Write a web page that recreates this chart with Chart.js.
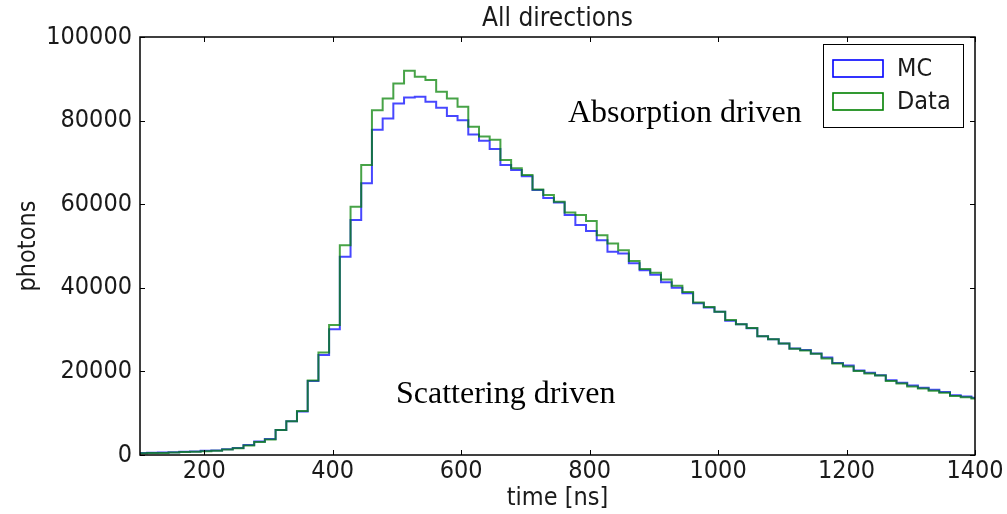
<!DOCTYPE html>
<html>
<head>
<meta charset="utf-8">
<script src="https://cdn.jsdelivr.net/npm/chart.js@4/dist/chart.umd.min.js"></script>
<style>
  html, body { margin: 0; padding: 0; background: #fff; }
  #wrap { position: relative; width: 1007px; height: 514px; }
</style>
</head>
<body>
<div id="wrap"><canvas id="c"></canvas></div>
<script>
// ---- data ----
const chartTitle = "All directions";
const xAxisTitle = "time [ns]";
const yAxisTitle = "photons";
const seriesNames = ["MC", "Data"];
const annotationTexts = ["Absorption driven", "Scattering driven"];

// left edge of each histogram bin, ns
const binStarts = [100, 111.1, 127.8, 144.4, 161.1, 177.8, 194.4, 211.1, 227.8, 244.4, 261.1, 277.8, 294.4,
  311.1, 327.8, 344.4, 361.1, 377.8, 394.4, 411.1, 427.8, 444.4, 461.1, 477.8, 494.4,
  511.1, 527.8, 544.4, 561.1, 577.8, 594.4, 611.1, 627.8, 644.4, 661.1, 677.8, 694.4,
  711.1, 727.8, 744.4, 761.1, 777.8, 794.4, 811.1, 827.8, 844.4, 861.1, 877.8, 894.4,
  911.1, 927.8, 944.4, 961.1, 977.8, 994.4, 1011.1, 1027.8, 1044.4, 1061.1, 1077.8, 1094.4,
  1111.1, 1127.8, 1144.4, 1161.1, 1177.8, 1194.4, 1211.1, 1227.8, 1244.4, 1261.1, 1277.8, 1294.4,
  1311.1, 1327.8, 1344.4, 1361.1, 1377.8, 1394.4];
const xEnd = 1400;

const mcValues = [500, 550, 600, 650, 750, 850, 1000, 1100, 1400, 1700, 2400, 3200, 3800,
  6000, 8100, 10400, 17700, 23900, 30100, 47400, 56200, 65000, 77800, 80500, 84100,
  85500, 85700, 84500, 83100, 81100, 80100, 76700, 75200, 73200, 69400, 68200, 66700,
  63400, 61500, 60400, 57400, 55000, 53600, 51400, 48600, 48200, 45900, 44200, 43100,
  41300, 40000, 38700, 36300, 35300, 34300, 32100, 31300, 30300, 28400, 27700, 26700,
  25500, 25100, 24300, 23300, 22000, 21400, 20200, 19700, 19100, 17900, 17300, 16600,
  16100, 15600, 15100, 14300, 14000, 13700];

const dataValues = [400, 450, 500, 600, 700, 800, 900, 1000, 1300, 1600, 2300, 3100, 3700,
  6000, 8100, 10500, 17800, 24500, 31100, 50200, 59400, 69400, 82500, 85300, 88900,
  91900, 90500, 89700, 86900, 85300, 83300, 78500, 76200, 75400, 70600, 68600, 67000,
  63500, 62200, 60600, 58000, 57400, 56000, 52600, 50600, 49000, 46400, 44500, 43600,
  42000, 40500, 39000, 36500, 35400, 34300, 32300, 31300, 30400, 28400, 27700, 26700,
  25400, 25000, 24200, 23100, 21900, 21200, 20100, 19500, 19000, 17700, 17100, 16400,
  15900, 15400, 14900, 14100, 13800, 13500];

const xTickValues = [200, 400, 600, 800, 1000, 1200, 1400];
const yTickValues = [0, 20000, 40000, 60000, 80000, 100000];

// ---- presentation ----
const FONT = "'DejaVu Sans Condensed', 'DejaVu Sans', sans-serif";
const SERIF = "'Liberation Serif', 'Times New Roman', serif";
const colors = ["rgba(0,0,255,0.72)", "rgba(0,128,0,0.72)"];

function toSteps(values) {
  const pts = binStarts.map((t, i) => ({ x: t, y: values[i] }));
  pts.push({ x: xEnd, y: values[values.length - 1] });
  return pts;
}

const decor = {
  id: 'decor',
  afterDraw(chart) {
    const { ctx, chartArea: a, scales: { x, y } } = chart;
    ctx.save();
    // inward tick marks on all four sides
    ctx.strokeStyle = '#000';
    ctx.lineWidth = 1;
    const tl = 5;
    x.ticks.forEach(t => {
      const px = Math.round(x.getPixelForValue(t.value)) + 0.5;
      ctx.beginPath();
      ctx.moveTo(px, a.bottom); ctx.lineTo(px, a.bottom - tl);
      ctx.moveTo(px, a.top); ctx.lineTo(px, a.top + tl);
      ctx.stroke();
    });
    y.ticks.forEach(t => {
      const py = Math.round(y.getPixelForValue(t.value)) + 0.5;
      ctx.beginPath();
      ctx.moveTo(a.left, py); ctx.lineTo(a.left + tl, py);
      ctx.moveTo(a.right, py); ctx.lineTo(a.right - tl, py);
      ctx.stroke();
    });
    // frame
    ctx.lineWidth = 1.5;
    ctx.strokeRect(a.left, a.top, a.right - a.left, a.bottom - a.top);

    // title
    ctx.fillStyle = '#1a1a1a';
    ctx.font = `26px ${FONT}`;
    ctx.textAlign = 'center';
    ctx.textBaseline = 'middle';
    ctx.fillText(chartTitle, (a.left + a.right) / 2, 19);

    // axis titles
    ctx.font = `25px ${FONT}`;
    ctx.fillText(xAxisTitle, (a.left + a.right) / 2, 498);
    ctx.save();
    ctx.translate(28, (a.top + a.bottom) / 2);
    ctx.rotate(-Math.PI / 2);
    ctx.fillText(yAxisTitle, 0, 0);
    ctx.restore();

    // annotations
    ctx.fillStyle = '#000';
    ctx.font = `32px ${SERIF}`;
    ctx.textAlign = 'left';
    ctx.textBaseline = 'alphabetic';
    ctx.fillText(annotationTexts[0], 568, 122);
    ctx.fillText(annotationTexts[1], 396, 403);

    // legend
    const lx = 823, ly = 44, lw = 140, lh = 83;
    ctx.fillStyle = '#fff';
    ctx.fillRect(lx, ly, lw, lh);
    ctx.strokeStyle = '#000';
    ctx.lineWidth = 1;
    ctx.strokeRect(lx + 0.5, ly + 0.5, lw, lh);
    chart.data.datasets.forEach((ds, i) => {
      const sy = 60 + i * 33;
      ctx.strokeStyle = ds.legendColor;
      ctx.lineWidth = 1.6;
      ctx.strokeRect(833, sy, 50, 17);
      ctx.fillStyle = '#1a1a1a';
      ctx.font = `25px ${FONT}`;
      ctx.textAlign = 'left';
      ctx.textBaseline = 'middle';
      ctx.fillText(ds.label, 897, sy + 9);
    });
    ctx.restore();
  }
};

new Chart(document.getElementById('c'), {
  type: 'line',
  data: {
    datasets: [
      { label: seriesNames[0], data: toSteps(mcValues), borderColor: colors[0], legendColor: 'rgb(0,0,255)',
        borderWidth: 2, stepped: 'before', pointRadius: 0, fill: false, order: 2 },
      { label: seriesNames[1], data: toSteps(dataValues), borderColor: colors[1], legendColor: 'rgb(0,128,0)',
        borderWidth: 2, stepped: 'before', pointRadius: 0, fill: false, order: 1 }
    ]
  },
  options: {
    responsive: true,
    maintainAspectRatio: false,
    animation: false,
    layout: { padding: { top: 37, right: 32, left: 0, bottom: 0 } },
    plugins: { legend: { display: false }, tooltip: { enabled: false }, title: { display: false } },
    scales: {
      x: {
        type: 'linear', min: 100, max: 1400,
        afterFit: s => { s.height = 59; },
        afterBuildTicks: s => { s.ticks = xTickValues.map(v => ({ value: v })); },
        grid: { display: false, drawTicks: false },
        border: { display: false },
        ticks: { padding: 1, color: '#1a1a1a', font: { family: FONT, size: 25 }, maxRotation: 0,
                 callback: v => String(v) }
      },
      y: {
        type: 'linear', min: 0, max: 100000,
        afterFit: s => { s.width = 140; },
        afterBuildTicks: s => { s.ticks = yTickValues.map(v => ({ value: v })); },
        grid: { display: false, drawTicks: false },
        border: { display: false },
        ticks: { padding: 8, color: '#1a1a1a', font: { family: FONT, size: 25 },
                 callback: v => String(v) }
      }
    }
  },
  plugins: [decor]
});
</script>
</body>
</html>
